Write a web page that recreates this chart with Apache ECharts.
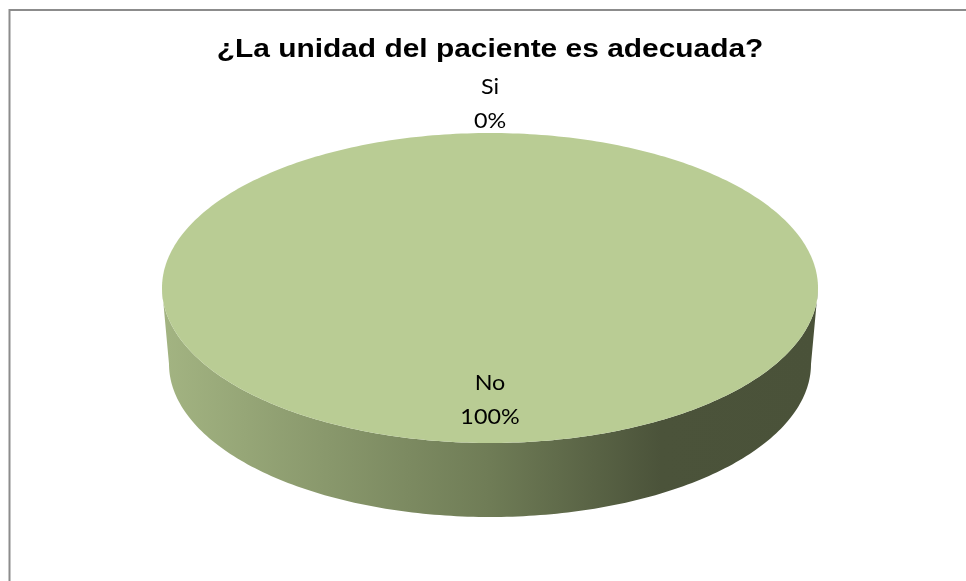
<!DOCTYPE html>
<html>
<head>
<meta charset="utf-8">
<script src="https://cdn.jsdelivr.net/npm/echarts@6/dist/echarts.min.js"></script>
<style>
html,body{margin:0;padding:0;background:#fff;}
#c{width:966px;height:581px;}
</style>
</head>
<body>
<div id="c"></div>
<script>
var titleText = '¿La unidad del paciente es adecuada?';
var categories = ['Si', 'No'];
var values = [0, 100];

var total = values.reduce(function (a, b) { return a + b; }, 0);
var starts = [];
(function () { var acc = 0; for (var i = 0; i < values.length; i++) { starts.push(acc); acc += values[i]; } })();

var CX = 490, CY = 288, RX = 328, RY = 155;
var BCY = 364, BRX = 321, BRY = 153;

function pt(cx, cy, rx, ry, deg) {
  var r = deg * Math.PI / 180;
  return [cx + rx * Math.sin(r), cy - ry * Math.cos(r)];
}

function arcPts(cx, cy, rx, ry, a0, a1) {
  var pts = [];
  var n = Math.max(2, Math.ceil(Math.abs(a1 - a0) / 1));
  for (var i = 0; i <= n; i++) {
    pts.push(pt(cx, cy, rx, ry, a0 + (a1 - a0) * i / n));
  }
  return pts;
}

function renderItem(params, api) {
  var idx = params.dataIndex;
  var v = api.value(0);
  var a0 = starts[idx] / total * 360;
  var a1 = (starts[idx] + v) / total * 360;
  var children = [];
  // side wall (front half: 90..270)
  var s0 = Math.max(a0, 90), s1 = Math.min(a1, 270);
  if (s1 > s0) {
    var topArc = arcPts(CX, CY, RX, RY, s0, s1);
    var botArc = arcPts(CX, BCY, BRX, BRY, s1, s0);
    children.push({
      type: 'polygon',
      shape: { points: topArc.concat(botArc) },
      style: {
        fill: new echarts.graphic.LinearGradient(0, 0, 1, 0, [
          { offset: 0, color: '#a3b482' },
          { offset: 0.5, color: '#6f7c56' },
          { offset: 0.76, color: '#4b533a' },
          { offset: 1, color: '#4a5239' }
        ])
      },
      z2: 1
    });
  }
  // top face
  if (a1 > a0) {
    var face;
    if (a1 - a0 >= 359.999) {
      face = arcPts(CX, CY, RX, RY, 0, 360);
    } else {
      face = [[CX, CY]].concat(arcPts(CX, CY, RX, RY, a0, a1));
    }
    children.push({
      type: 'polygon',
      shape: { points: face },
      style: { fill: '#b9cc94' },
      z2: 2
    });
  }
  // label
  var mid = (a0 + a1) / 2;
  var k = v > 0 ? 0.72 : 1.19;
  var lp = pt(CX, CY, RX * k, RY * k, mid);
  var pct = Math.round(v / total * 100) + '%';
  children.push({
    type: 'text',
    x: lp[0], y: lp[1],
    scaleX: 1.06,
    style: {
      text: categories[idx] + '\n' + pct,
      fill: '#000',
      font: '22px Lato',
      lineHeight: 34,
      align: 'center',
      verticalAlign: 'middle'
    },
    z2: 5
  });
  return { type: 'group', children: children };
}

var chart = echarts.init(document.getElementById('c'), null, { renderer: 'canvas' });
chart.setOption({
  backgroundColor: '#fff',
  animation: false,
  graphic: [{
    type: 'rect',
    shape: { x: 9.5, y: 10, width: 2000, height: 2000 },
    style: { fill: 'none', stroke: '#8c8c8c', lineWidth: 2 },
    silent: true
  }, {
    type: 'text',
    x: 490, y: 50,
    scaleX: 1.15,
    style: {
      text: titleText,
      font: 'bold 26px "Liberation Sans"',
      fill: '#000',
      align: 'center',
      verticalAlign: 'middle'
    },
    silent: true
  }],
  series: [{
    type: 'custom',
    coordinateSystem: 'none',
    renderItem: renderItem,
    data: categories.map(function (c, i) { return { name: c, value: [values[i]] }; })
  }]
});
</script>
</body>
</html>
